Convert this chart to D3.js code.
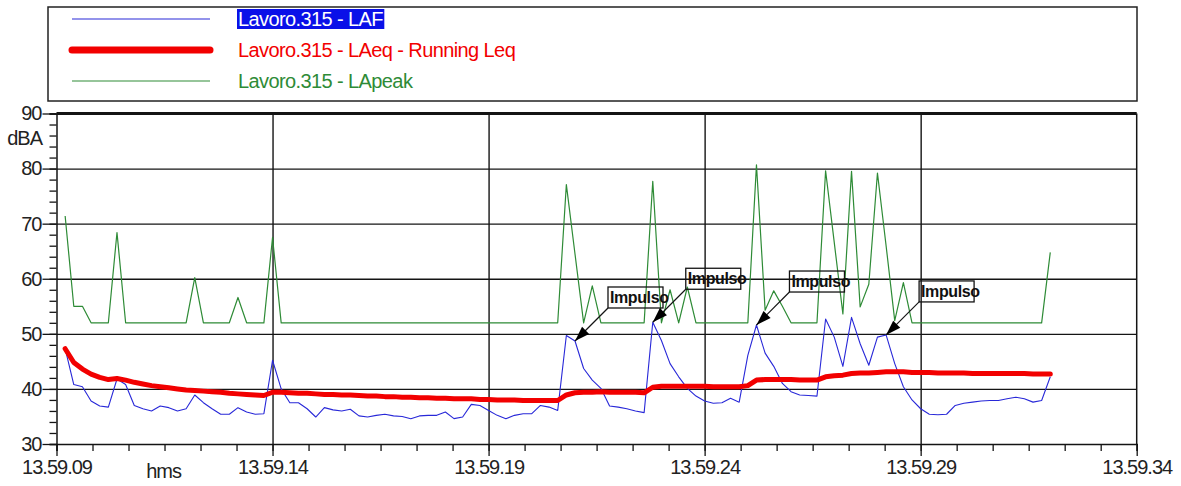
<!DOCTYPE html>
<html>
<head>
<meta charset="utf-8">
<script src="https://cdn.jsdelivr.net/npm/d3@7"></script>
<style>
  html, body { margin: 0; padding: 0; background: #fff; }
  svg { display: block; font-family: "Liberation Sans", Arial, sans-serif; }
</style>
</head>
<body>
<svg id="chart" width="1181" height="486"></svg>
<script>
// ---------------- DATA ----------------
const seriesNames = ["Lavoro.315 - LAF", "Lavoro.315 - LAeq - Running Leq", "Lavoro.315 - LApeak"];
const xTickLabels = ["13.59.09", "13.59.14", "13.59.19", "13.59.24", "13.59.29", "13.59.34"];
const xTickSeconds = [0, 5, 10, 15, 20, 25];
const yTickValues = [30, 40, 50, 60, 70, 80, 90];
const yUnit = "dBA";
const xUnit = "hms";
const sampleStart = 0.2;   // seconds after 13.59.09
const sampleStep = 0.2;    // seconds between samples

const laf = [
  47.3,40.8,40.4,37.8,36.9,36.7,41.8,40.8,37.0,36.4,36.0,36.9,36.6,36.0,36.4,38.9,37.5,36.4,35.4,35.4,36.6,35.8,35.4,35.5,45.2,
  40.0,37.5,37.5,36.4,34.9,36.6,36.2,36.0,36.3,35.1,34.9,35.2,35.4,35.1,35.0,34.6,35.1,35.2,35.2,35.8,34.6,34.9,37.2,37.0,36.1,
  35.2,34.6,35.2,35.5,35.5,37.0,36.7,36.1,49.7,48.7,43.7,41.6,40.1,36.9,36.7,36.4,36.0,35.7,52.1,48.8,44.6,42.2,40.1,38.7,37.8,
  37.4,37.5,38.3,37.6,46.1,51.6,46.5,44.1,41.0,39.5,38.9,38.8,38.7,52.7,49.4,44.1,53.0,48.2,44.3,49.4,49.8,44.6,40.4,38.0,36.4,
  35.4,35.3,35.4,37.0,37.4,37.6,37.8,37.9,37.9,38.2,38.5,38.2,37.6,37.9,42.2
];
const leq = [
  47.3,44.8,43.6,42.7,42.1,41.7,41.9,41.6,41.2,40.9,40.6,40.4,40.2,40.0,39.8,39.7,39.6,39.5,39.4,39.2,39.1,39.0,38.9,38.8,39.4,
  39.4,39.3,39.2,39.2,39.1,39.0,39.0,38.9,38.9,38.8,38.7,38.7,38.6,38.6,38.5,38.5,38.4,38.4,38.3,38.3,38.2,38.2,38.2,38.1,38.1,
  38.0,38.0,38.0,37.9,37.9,37.9,37.9,37.9,38.9,39.3,39.4,39.4,39.5,39.4,39.4,39.4,39.4,39.3,40.3,40.5,40.5,40.5,40.5,40.5,40.5,
  40.4,40.4,40.4,40.4,40.6,41.6,41.7,41.7,41.7,41.7,41.6,41.6,41.6,42.2,42.4,42.5,42.8,42.9,42.9,43.0,43.1,43.1,43.1,43.0,43.0,
  43.0,42.9,42.9,42.9,42.9,42.8,42.8,42.8,42.8,42.8,42.8,42.8,42.7,42.7,42.7
];
const lapeak = [
  71.4,55,55,52,52,52,68.4,52,52,52,52,52,52,52,52,60.2,52,52,52,52,56.6,52,52,52,67.5,
  52,52,52,52,52,52,52,52,52,52,52,52,52,52,52,52,52,52,52,52,52,52,52,52,52,
  52,52,52,52,52,52,52,52,77.1,64.5,52,58.7,52,52,52,52,52,52,77.7,52,58,52,58.5,52,52,
  52,52,52,52,52,80.7,54.3,57.8,55,52,52,52,52,79.6,66.6,53.6,79.5,54.9,59.0,79.2,66,52.4,59.3,52,52,
  52,52,52,52,52,52,52,52,52,52,52,52,52,52,64.8
];
const annotationText = "Impulso";
const annotationTimes = [12.0, 13.8, 16.2, 19.2];

// ---------------- LAYOUT ----------------
const svg = d3.select("#chart");
const plot = { left: 56.5, right: 1136.7, top: 113.5, bottom: 444 };
const x = d3.scaleLinear().domain([0, 25]).range([plot.left, plot.right]);
const y = d3.scaleLinear().domain([30, 90]).range([plot.bottom, plot.top]);
const times = laf.map((_, i) => +(sampleStart + i * sampleStep).toFixed(1));

const colors = { laf: "#2828d8", leq: "#f20000", peak: "#2e8b36", ink: "#141414" };

svg.append("rect").attr("width", 1181).attr("height", 486).attr("fill", "#fff");

// ---------------- LEGEND ----------------
const legend = svg.append("g");
legend.append("rect").attr("x", 48).attr("y", 7).attr("width", 1137 - 48).attr("height", 94)
  .attr("fill", "none").attr("stroke", "#222").attr("stroke-width", 1.5);
const legendRows = [
  { name: seriesNames[0], color: colors.laf, width: 1.2, y: 19, highlight: true },
  { name: seriesNames[1], color: colors.leq, width: 7, y: 50, highlight: false },
  { name: seriesNames[2], color: colors.peak, width: 1.2, y: 81, highlight: false }
];
legendRows.forEach(r => {
  legend.append("line").attr("x1", 72).attr("x2", 210).attr("y1", r.y).attr("y2", r.y)
    .attr("stroke", r.color).attr("stroke-width", r.width).attr("stroke-linecap", r.width > 3 ? "round" : "butt");
  const t = legend.append("text").attr("x", 238).attr("y", r.y + 7)
    .attr("font-size", 20).attr("letter-spacing", -0.6)
    .attr("fill", r.highlight ? "#fff" : r.color).text(r.name);
  if (r.highlight) {
    const bb = t.node().getBBox();
    legend.insert("rect", "text").attr("x", 237).attr("y", r.y - 10)
      .attr("width", bb.width + 2).attr("height", 20).attr("fill", "#0a10e8");
  }
});

// ---------------- GRID ----------------
const grid = svg.append("g");
grid.append("g").attr("transform", `translate(0,${plot.bottom})`)
  .call(d3.axisBottom(x).tickValues(xTickSeconds.slice(1, -1)).tickSize(-(plot.bottom - plot.top)).tickFormat(""))
  .call(g => g.select(".domain").remove())
  .call(g => g.selectAll("line").attr("stroke", colors.ink).attr("stroke-width", 1.4));
grid.append("g").attr("transform", `translate(${plot.left},0)`)
  .call(d3.axisLeft(y).tickValues(yTickValues.slice(1, -1)).tickSize(-(plot.right - plot.left)).tickFormat(""))
  .call(g => g.select(".domain").remove())
  .call(g => g.selectAll("line").attr("stroke", colors.ink).attr("stroke-width", 1.4));

// ---------------- SERIES ----------------
const line = d3.line().x((d, i) => x(times[i])).y(d => y(d));
svg.append("path").datum(lapeak).attr("d", line).attr("fill", "none")
  .attr("stroke", colors.peak).attr("stroke-width", 1.2).attr("stroke-linejoin", "round");
svg.append("path").datum(laf).attr("d", line).attr("fill", "none")
  .attr("stroke", colors.laf).attr("stroke-width", 1.1).attr("stroke-linejoin", "round");
svg.append("path").datum(leq).attr("d", line).attr("fill", "none")
  .attr("stroke", colors.leq).attr("stroke-width", 5).attr("stroke-linejoin", "round").attr("stroke-linecap", "round");

// ---------------- FRAME & AXES ----------------
const frame = svg.append("g");
frame.append("line").attr("x1", plot.left).attr("x2", plot.right).attr("y1", plot.top).attr("y2", plot.top)
  .attr("stroke", colors.ink).attr("stroke-width", 3);
frame.append("line").attr("x1", plot.right).attr("x2", plot.right).attr("y1", plot.top).attr("y2", plot.bottom)
  .attr("stroke", colors.ink).attr("stroke-width", 1.5);

const axisFont = g => g.selectAll("text").attr("font-size", 20).attr("letter-spacing", -1)
  .attr("fill", "#222").attr("font-family", "'Liberation Sans', Arial, sans-serif");

// y minor ticks
svg.append("g").attr("transform", `translate(${plot.left},0)`)
  .call(d3.axisLeft(y).tickValues(d3.range(30, 91, 2)).tickSize(7).tickFormat(""))
  .call(g => g.select(".domain").attr("stroke", colors.ink).attr("stroke-width", 1.5))
  .call(g => g.selectAll("line").attr("stroke", colors.ink).attr("stroke-width", 1.3));
// y major ticks
svg.append("g").attr("transform", `translate(${plot.left},0)`)
  .call(d3.axisLeft(y).tickValues(yTickValues).tickSize(14).tickPadding(1).tickFormat(d3.format("d")))
  .call(g => g.select(".domain").remove())
  .call(g => g.selectAll("line").attr("stroke", colors.ink).attr("stroke-width", 1.3))
  .call(axisFont);
svg.append("text").attr("x", 42).attr("y", y(85.5) + 7).attr("text-anchor", "end")
  .attr("font-size", 20).attr("letter-spacing", -1).attr("fill", "#222").text(yUnit);

// x minor ticks
svg.append("g").attr("transform", `translate(0,${plot.bottom})`)
  .call(d3.axisBottom(x).tickValues(d3.range(0, 31).map(k => k * 5 / 6)).tickSize(7).tickFormat(""))
  .call(g => g.select(".domain").attr("stroke", colors.ink).attr("stroke-width", 1.5))
  .call(g => g.selectAll("line").attr("stroke", colors.ink).attr("stroke-width", 1.3));
// x major ticks
svg.append("g").attr("transform", `translate(0,${plot.bottom})`)
  .call(d3.axisBottom(x).tickValues(xTickSeconds).tickSize(12).tickPadding(4)
    .tickFormat((d, i) => xTickLabels[i]))
  .call(g => g.select(".domain").remove())
  .call(g => g.selectAll("line").attr("stroke", colors.ink).attr("stroke-width", 1.3))
  .call(axisFont);
svg.append("text").attr("x", x(2.48)).attr("y", 478).attr("text-anchor", "middle")
  .attr("font-size", 20).attr("letter-spacing", -1).attr("fill", "#222").text(xUnit);

// ---------------- ANNOTATIONS ----------------
const ann = svg.append("g");
annotationTimes.forEach(t => {
  const i = times.indexOf(t);
  const tx = x(t), ty = y(laf[i]);
  const bx = tx + 33, bby = ty - 33; // box bottom-left
  ann.append("rect").attr("x", bx).attr("y", bby - 21).attr("width", 55).attr("height", 21)
    .attr("fill", "none").attr("stroke", colors.ink).attr("stroke-width", 1.3);
  ann.append("text").attr("x", bx + 2).attr("y", bby - 5).attr("font-size", 16).attr("font-weight", "bold")
    .attr("letter-spacing", -0.4).attr("fill", "#111").text(annotationText);
  ann.append("line").attr("x1", bx).attr("y1", bby).attr("x2", tx).attr("y2", ty)
    .attr("stroke", colors.ink).attr("stroke-width", 1.2);
  const ang = Math.atan2(ty - bby, tx - bx);
  const L = 15, W = 5;
  const p1 = [tx - L * Math.cos(ang) + W * Math.sin(ang), ty - L * Math.sin(ang) - W * Math.cos(ang)];
  const p2 = [tx - L * Math.cos(ang) - W * Math.sin(ang), ty - L * Math.sin(ang) + W * Math.cos(ang)];
  ann.append("path").attr("d", `M${tx},${ty}L${p1[0]},${p1[1]}L${p2[0]},${p2[1]}Z`).attr("fill", "#000");
});
</script>
</body>
</html>
